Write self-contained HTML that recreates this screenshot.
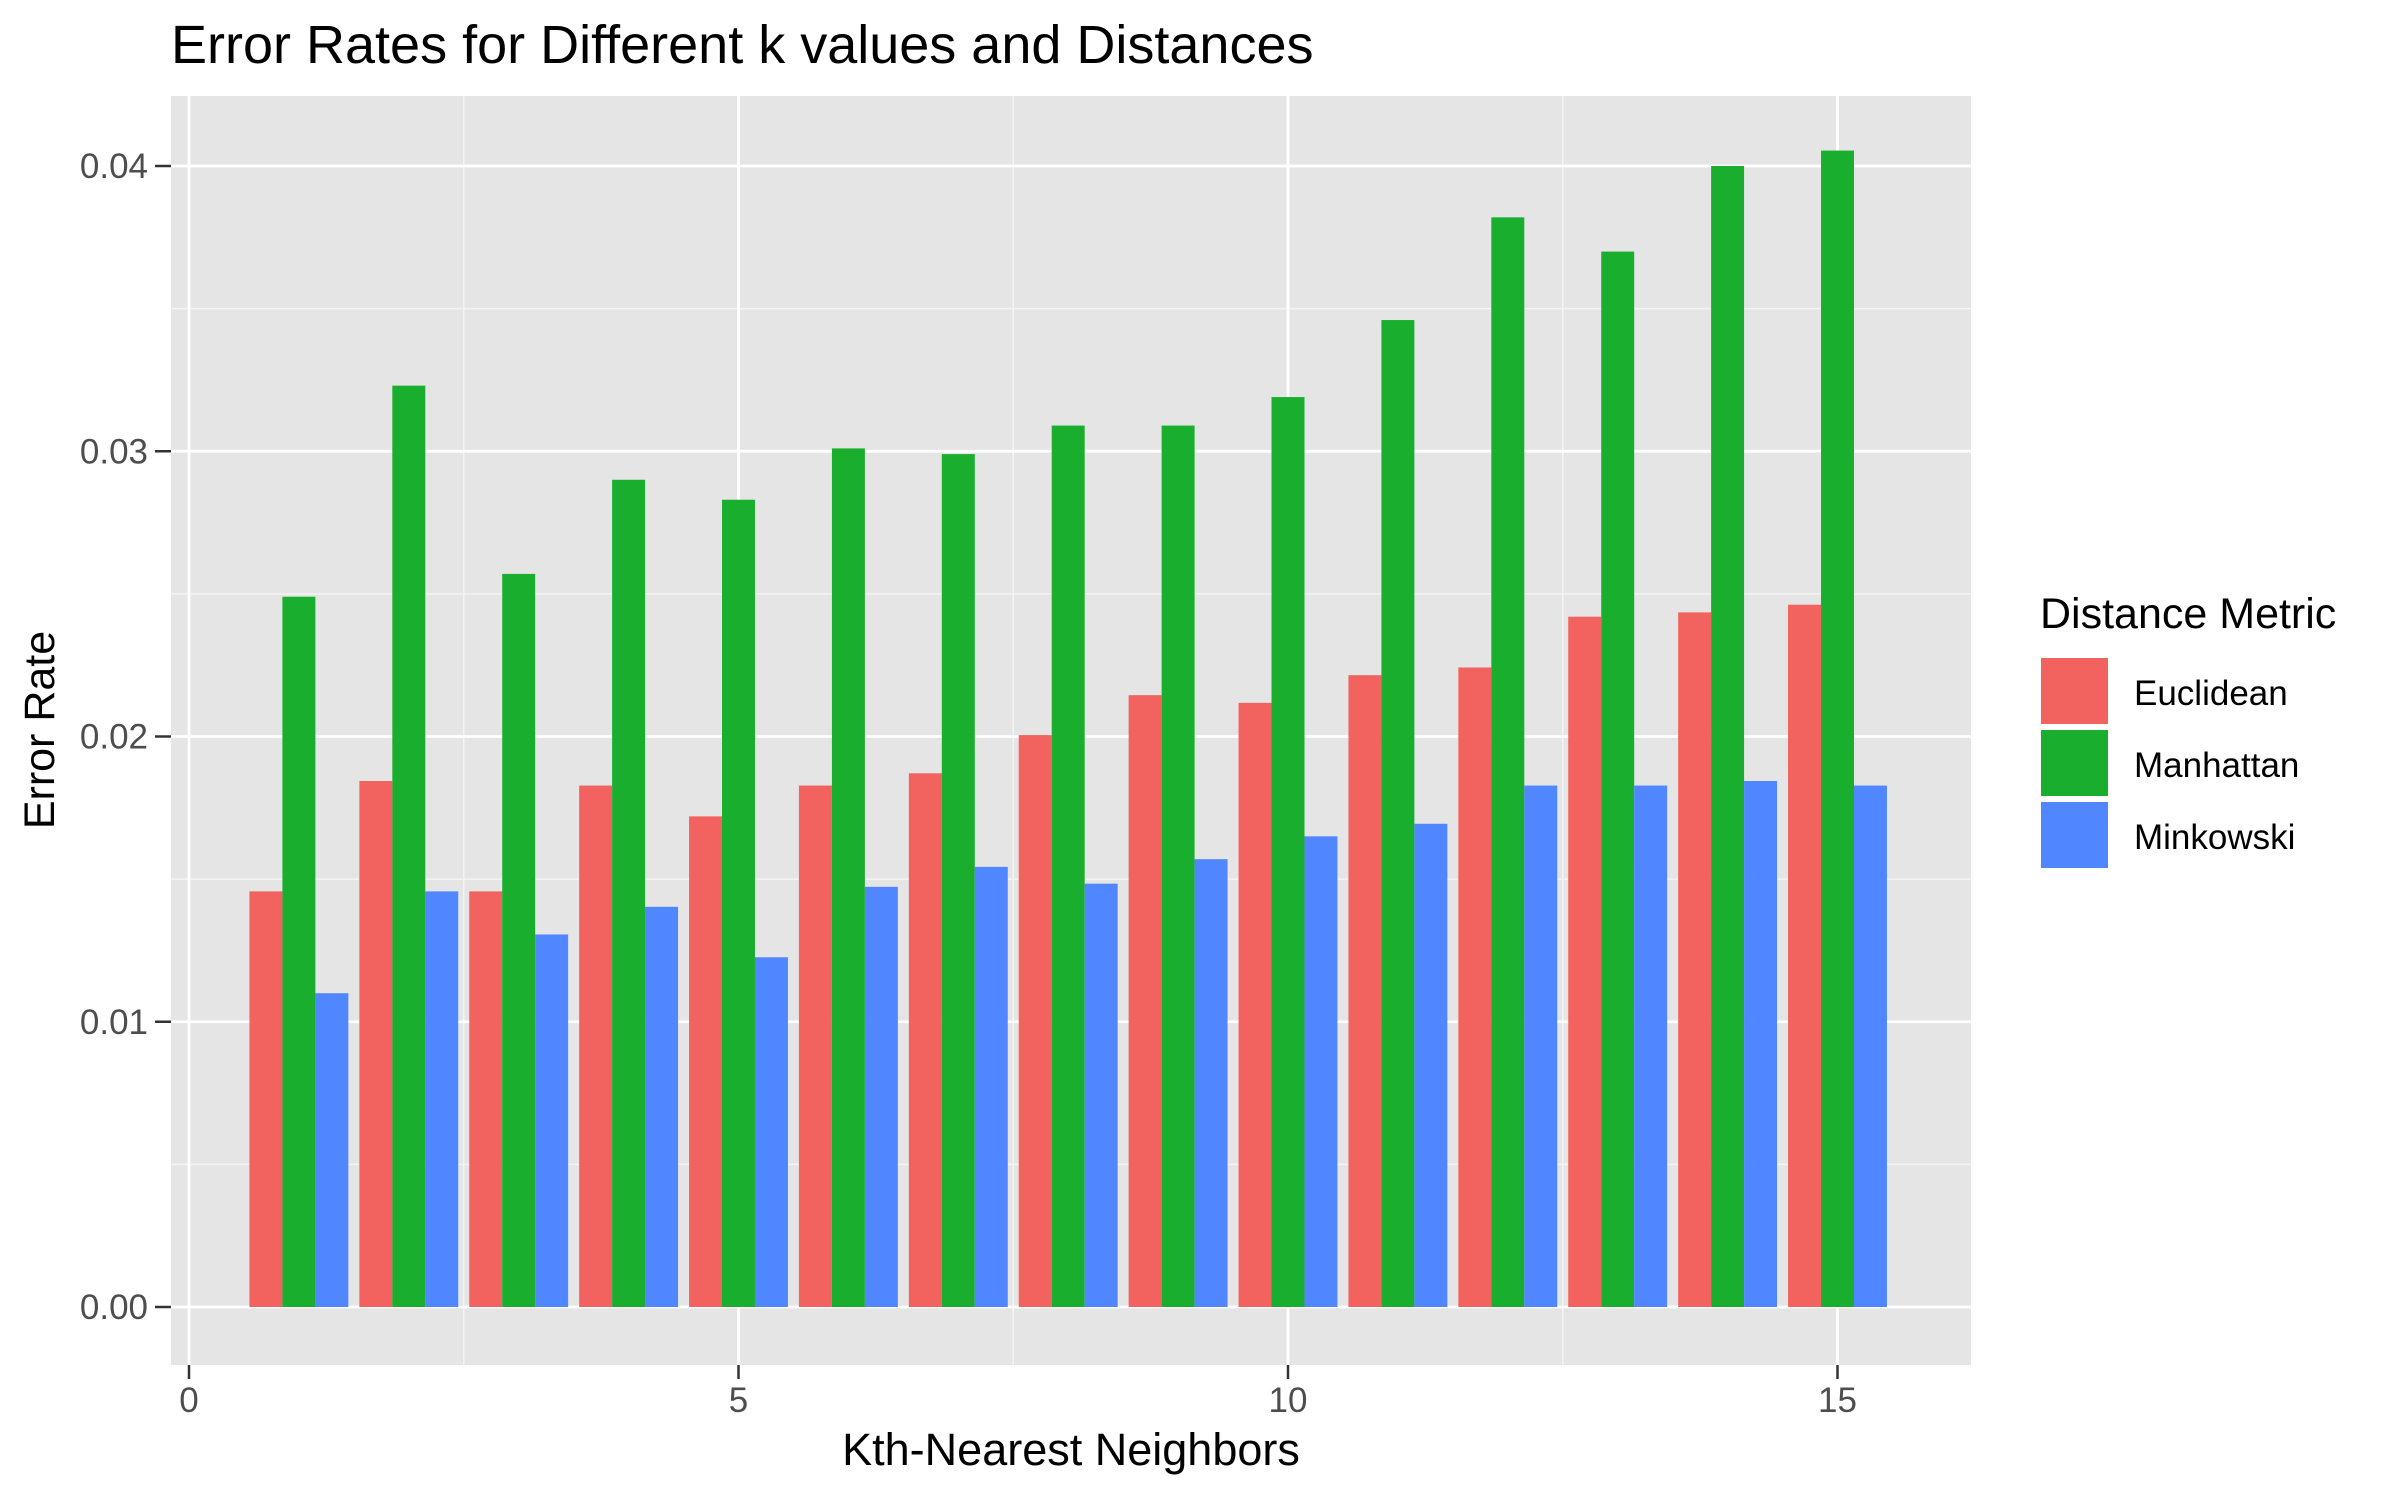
<!DOCTYPE html>
<html><head><meta charset="utf-8"><style>
html,body{margin:0;padding:0;background:#fff}
svg{display:block;font-family:"Liberation Sans",Arial,sans-serif}
</style></head><body>
<svg id="chart" width="2400" height="1500" viewBox="0 0 2400 1500" xmlns="http://www.w3.org/2000/svg">
<text x="171" y="63" font-size="54" fill="#000">Error Rates for Different k values and Distances</text>
<rect x="171" y="96" width="1800" height="1269" fill="#e5e5e5"/>
<g id="grid"></g>
<g id="bars"></g>
<g id="axes"></g>
<text x="1071" y="1465" font-size="45" text-anchor="middle" fill="#000">Kth-Nearest Neighbors</text>
<text transform="translate(54,730) rotate(-90)" font-size="43" text-anchor="middle" fill="#000">Error Rate</text>
<g>
<text x="2040" y="628" font-size="43" fill="#000">Distance Metric</text>
<rect x="2041" y="658" width="67" height="66" fill="#F2635F"/>
<text x="2134" y="705" font-size="35" fill="#000">Euclidean</text>
<rect x="2041" y="730" width="67" height="66" fill="#1AAE2E"/>
<text x="2134" y="777" font-size="35" fill="#000">Manhattan</text>
<rect x="2041" y="802" width="67" height="66" fill="#5086FF"/>
<text x="2134" y="849" font-size="35" fill="#000">Minkowski</text>
</g>
</svg>
<script>
const categories = [1,2,3,4,5,6,7,8,9,10,11,12,13,14,15];
const euclidean = [0.01457,0.01844,0.01457,0.01828,0.0172,0.01828,0.01871,0.02005,0.02145,0.02118,0.02215,0.02242,0.0242,0.02435,0.02462];
const manhattan = [0.0249,0.0323,0.0257,0.0290,0.0283,0.0301,0.0299,0.0309,0.0309,0.0319,0.0346,0.0382,0.0370,0.0400,0.04054];
const minkowski = [0.0110,0.01457,0.01306,0.01403,0.01226,0.01473,0.01543,0.01484,0.0157,0.0165,0.01694,0.01828,0.01828,0.01844,0.01828];
const xTicks = [0,5,10,15];
const xMinor = [2.5,7.5,12.5];
const yTicks = [0,0.01,0.02,0.03,0.04];
const yTickLabels = ["0.00","0.01","0.02","0.03","0.04"];
const yMinor = [0.005,0.015,0.025,0.035];

const NS = "http://www.w3.org/2000/svg";
const PL = 171, PR = 1971, PT = 96, PB = 1365;
function xs(v){ return 189 + v * 109.9; }
function ys(v){ return 1307 - v * 28525; }
function mk(tag, attrs, parent){
  const e = document.createElementNS(NS, tag);
  for (const k in attrs) e.setAttribute(k, attrs[k]);
  parent.appendChild(e);
  return e;
}
const grid = document.getElementById('grid');
const bars = document.getElementById('bars');
const axes = document.getElementById('axes');

yMinor.forEach(v => {
  const l = mk('line', {x1:PL, x2:PR, y1:ys(v), y2:ys(v), stroke:'#f4f4f4', 'stroke-width':1.5}, grid);
  
  
});
xMinor.forEach(v => {
  const l = mk('line', {x1:xs(v), x2:xs(v), y1:PT, y2:PB, stroke:'#f4f4f4', 'stroke-width':1.5}, grid);
  
  
});
yTicks.forEach(v => {
  const l = mk('line', {x1:PL, x2:PR, y1:ys(v), y2:ys(v), stroke:'#fff', 'stroke-width':2.8}, grid);
  
  
});
xTicks.forEach(v => {
  const l = mk('line', {x1:xs(v), x2:xs(v), y1:PT, y2:PB, stroke:'#fff', 'stroke-width':2.8}, grid);
  
  
});

const series = [[euclidean,'#F2635F','euclidean',-0.3],[manhattan,'#1AAE2E','manhattan',0],[minkowski,'#5086FF','minkowski',0.3]];
series.forEach(([vals,color,name,off]) => {
  categories.forEach((c,i) => {
    const x0 = xs(c + off - 0.15), x1 = xs(c + off + 0.15);
    const r = mk('rect', {x:x0, y:ys(vals[i]), width:x1-x0, height:ys(0)-ys(vals[i]), fill:color}, bars);
    
    
  });
});

yTicks.forEach((v,i) => {
  const t = mk('line', {x1:155, x2:PL, y1:ys(v), y2:ys(v), stroke:'#333', 'stroke-width':2.5}, axes);
  
  
  const tx = mk('text', {x:148, y:ys(v)+12, 'font-size':35, 'text-anchor':'end', fill:'#4d4d4d'}, axes);
  tx.textContent = yTickLabels[i];
  
  
});
xTicks.forEach(v => {
  const t = mk('line', {x1:xs(v), x2:xs(v), y1:PB, y2:PB+14, stroke:'#333', 'stroke-width':2.5}, axes);
  
  
  const tx = mk('text', {x:xs(v), y:1412, 'font-size':35, 'text-anchor':'middle', fill:'#4d4d4d'}, axes);
  tx.textContent = String(v);
  
  
});
</script>
</body></html>
